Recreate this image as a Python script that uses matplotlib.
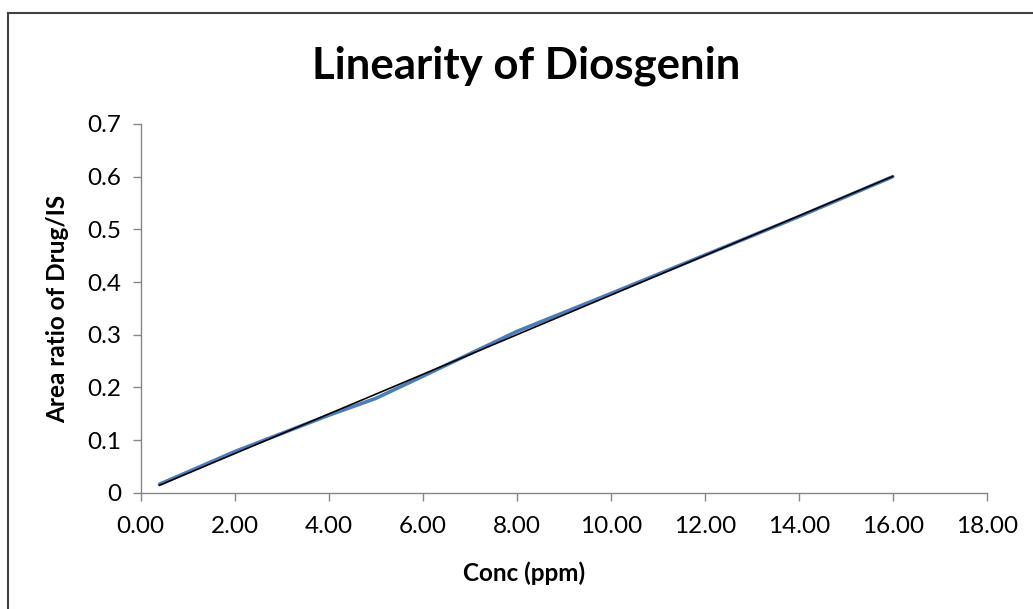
import numpy as np
import matplotlib.pyplot as plt
from matplotlib.lines import Line2D

plt.rcParams.update({
    'font.family': ['Lato', 'DejaVu Sans'],
    'axes.linewidth': 1.0,
})

# data
conc = [0.4, 2.0, 4.0, 5.0, 6.0, 8.0, 10.0, 12.0, 14.0, 16.0]
area_ratio = [0.016, 0.078, 0.147, 0.179, 0.221, 0.306, 0.378, 0.451, 0.524, 0.600]
xticks = [0, 2, 4, 6, 8, 10, 12, 14, 16, 18]
yticks = [0, 0.1, 0.2, 0.3, 0.4, 0.5, 0.6, 0.7]

fig = plt.figure(figsize=(10.33, 6.09), dpi=100)
ax = fig.add_axes([0.1362, 0.191, 0.8190, 0.6054])

ax.plot(conc, area_ratio, color='#4A7EBB', lw=2.6, solid_capstyle='round', zorder=2)

# linear trendline
slope, icpt = np.polyfit(conc, area_ratio, 1)
xs = np.array([conc[0], conc[-1]])
ax.plot(xs, slope * xs + icpt, color='black', lw=1.2, zorder=3)

ax.set_xlim(0, 18)
ax.set_ylim(0, 0.7)
ax.set_xticks(xticks)
ax.set_xticklabels([f"{v:.2f}" for v in xticks])
ax.set_yticks(yticks)
ax.set_yticklabels(['0'] + [f"{v:.1f}" for v in yticks[1:]])

for s in ['top', 'right']:
    ax.spines[s].set_visible(False)
for s in ['left', 'bottom']:
    ax.spines[s].set_color('#868686')
ax.tick_params(axis='both', direction='out', length=6, width=1.0, color='#868686',
               labelsize=17.5, labelcolor='black')
ax.tick_params(axis='x', pad=11)
ax.tick_params(axis='y', pad=8)

fig.text(0.509, 0.892, 'Linearity of Diosgenin', ha='center', va='center',
         fontsize=31.5, fontweight='bold')
fig.text(0.507, 0.059, 'Conc (ppm)', ha='center', va='center',
         fontsize=17.5, fontweight='bold')
fig.text(0.056, 0.493, 'Area ratio of Drug/IS', ha='center', va='center',
         rotation=90, fontsize=17.5, fontweight='bold')

# chart frame
fig.add_artist(Line2D([8 / 1033, 8 / 1033], [0, 1 - 12.5 / 609], transform=fig.transFigure,
                      color='#404040', lw=1.5))
fig.add_artist(Line2D([8 / 1033, 1], [1 - 12.5 / 609, 1 - 12.5 / 609], transform=fig.transFigure,
                      color='#404040', lw=1.5))

fig.savefig('out.png', dpi=100)
